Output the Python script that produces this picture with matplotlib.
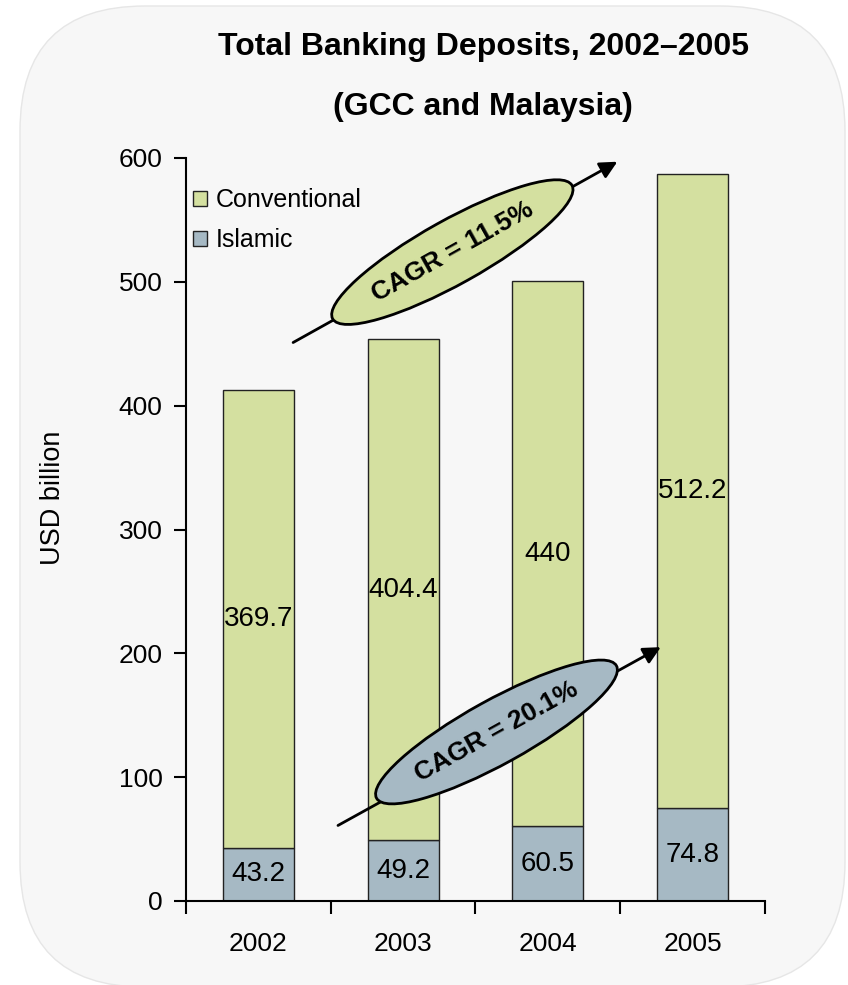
import numpy as np
import matplotlib
matplotlib.use('Agg')
import matplotlib.pyplot as plt
from matplotlib.patches import Ellipse, FancyBboxPatch
from matplotlib.transforms import ScaledTranslation, IdentityTransform

plt.rcParams['font.family'] = ['Liberation Sans', 'DejaVu Sans']

years = ['2002', '2003', '2004', '2005']
islamic = [43.2, 49.2, 60.5, 74.8]
conventional = [369.7, 404.4, 440.0, 512.2]
cagr_labels = ['CAGR = 11.5%', 'CAGR = 20.1%']

green = '#d4e0a0'
blue = '#a6b9c4'

fig = plt.figure(figsize=(8.48, 9.85), dpi=100)
fig.patch.set_facecolor('white')

# rounded grey panel behind everything
panel = FancyBboxPatch((20, -2), 825, 981, boxstyle='round,pad=0,rounding_size=125',
                       transform=IdentityTransform(), facecolor='#f7f7f7',
                       edgecolor='#e6e6e6', linewidth=1, zorder=0)
fig.add_artist(panel)

ax = fig.add_axes([186 / 848, 84 / 985, 579 / 848, 743 / 985])
ax.set_facecolor('none')

x = np.arange(len(years))
b1 = ax.bar(x, islamic, width=0.49, color=blue, edgecolor='#222222', linewidth=1, label='Islamic', zorder=2)
b2 = ax.bar(x, conventional, width=0.49, bottom=islamic, color=green, edgecolor='#222222',
            linewidth=1, label='Conventional', zorder=2)
ax.bar_label(b1, labels=['{:g}'.format(v) for v in islamic], label_type='center', fontsize=20)
ax.bar_label(b2, labels=['{:g}'.format(v) for v in conventional], label_type='center', fontsize=20)

ax.set_xlim(-0.5, 3.5)
ax.set_ylim(0, 600)
ax.set_yticks(np.arange(0, 601, 100))
ax.set_xticks(np.arange(-0.5, 3.6, 1))
ax.set_xticklabels([])
ax.set_xticks(x, minor=True)
ax.set_xticklabels(years, minor=True)
ax.tick_params(axis='x', which='major', direction='out', length=9, width=1.5)
ax.tick_params(axis='x', which='minor', length=0, pad=22, labelsize=19)
ax.tick_params(axis='y', direction='out', length=9, width=1.5, pad=8, labelsize=19)
for s in ['top', 'right']:
    ax.spines[s].set_visible(False)
for s in ['left', 'bottom']:
    ax.spines[s].set_linewidth(1.5)

h, l = ax.get_legend_handles_labels()
leg = ax.legend(h[::-1], l[::-1], loc='upper left', bbox_to_anchor=(-0.005, 0.973), frameon=False,
                fontsize=18, handlelength=0.55, handleheight=0.55, handletextpad=0.35,
                labelspacing=0.65, borderaxespad=0)
for p in leg.get_patches():
    p.set_edgecolor('#222222')

fig.text(483 / 848, 1 - 47 / 985, 'Total Banking Deposits, 2002\u20132005', ha='center', va='center',
         fontsize=23, fontweight='bold')
fig.text(483 / 848, 1 - 107 / 985, '(GCC and Malaysia)', ha='center', va='center',
         fontsize=23, fontweight='bold')
fig.text(53 / 848, 1 - 498 / 985, 'USD billion', rotation=90, ha='center', va='center', fontsize=19.5)

# growth arrows with labelled ellipses (arrow start, arrow end, ellipse centre in data units)
arrows = [((0.24, 451), (2.48, 597), (1.34, 524), green),
          ((0.55, 61), (2.78, 205), (1.645, 136.5), blue)]
for (start, end, centre, col), txt in zip(arrows, cagr_labels):
    ax.annotate('', xy=end, xytext=start, annotation_clip=False,
                arrowprops=dict(arrowstyle='-|>', lw=2, color='black', mutation_scale=26,
                                shrinkA=0, shrinkB=0), zorder=4)
    p0 = ax.transData.transform(start)
    p1 = ax.transData.transform(end)
    ang = np.degrees(np.arctan2(p1[1] - p0[1], p1[0] - p0[0]))
    tr = fig.dpi_scale_trans + ScaledTranslation(centre[0], centre[1], ax.transData)
    e = Ellipse((0, 0), 2.74, 0.64, angle=ang, transform=tr, facecolor=col,
                edgecolor='black', linewidth=2, zorder=5, clip_on=False)
    ax.add_artist(e)
    ax.text(centre[0], centre[1], txt, rotation=ang, rotation_mode='anchor', ha='center',
            va='center', fontsize=19, fontweight='bold', zorder=6)

fig.savefig('out.png', dpi=100)
